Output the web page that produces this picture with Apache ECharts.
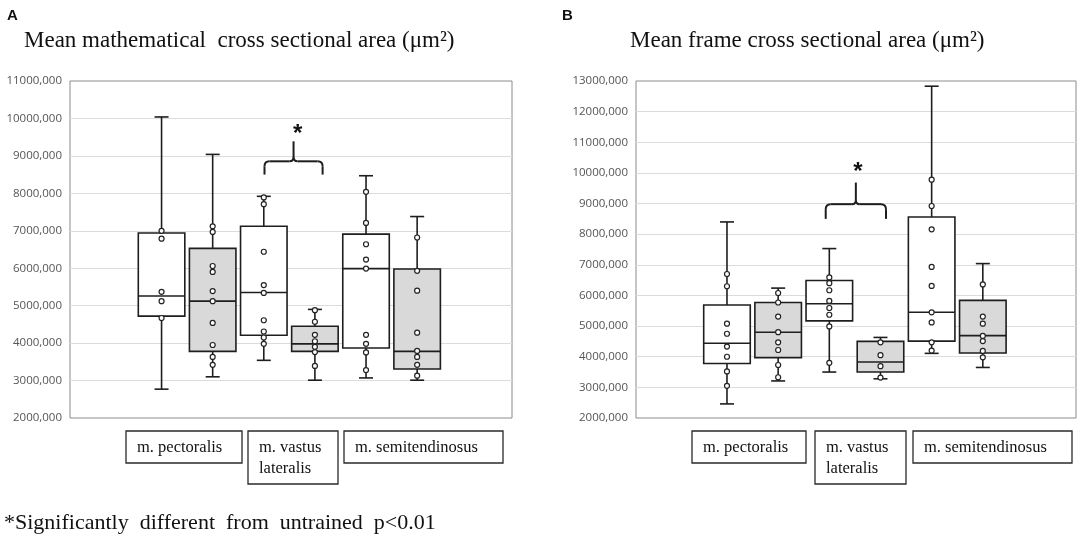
<!DOCTYPE html>
<html><head><meta charset="utf-8">
<script src="https://cdn.jsdelivr.net/npm/echarts@6/dist/echarts.min.js"></script>
<style>html,body{margin:0;padding:0;background:#fff}#c{width:1084px;height:543px}</style>
</head><body><div id="c"></div>
<script>
// ---------------- DATA ----------------
const muscles = ['m. pectoralis', 'm. vastus\nlateralis', 'm. semitendinosus'];
const categories = ['pectoralis-1', 'pectoralis-2', 'vastus-1', 'vastus-2', 'semitendinosus-1', 'semitendinosus-2'];
const titleA = 'Mean mathematical  cross sectional area (μm²)';
const titleB = 'Mean frame cross sectional area (μm²)';
const footnote = '*Significantly  different  from  untrained  p<0.01';
const yTicksA = ['2000,000','3000,000','4000,000','5000,000','6000,000','7000,000','8000,000','9000,000','10000,000','11000,000'];
const yTicksB = ['2000,000','3000,000','4000,000','5000,000','6000,000','7000,000','8000,000','9000,000','10000,000','11000,000','12000,000','13000,000'];
// [min, Q1, median, Q3, max] for each category
const boxesA = [
  [2770000, 4720000, 5260000, 6940000, 10040000],
  [3100000, 3780000, 5120000, 6530000, 9040000],
  [3540000, 4210000, 5350000, 7120000, 7920000],
  [3010000, 3780000, 3980000, 4450000, 4900000],
  [3070000, 3870000, 5990000, 6910000, 8470000],
  [3010000, 3310000, 3780000, 5980000, 7380000]
];
const pointsA = [
  [7000000, 6790000, 5370000, 5120000, 4670000],
  [7120000, 6970000, 6060000, 5900000, 5390000, 5120000, 4540000, 3950000, 3630000, 3420000],
  [7890000, 7710000, 6440000, 5550000, 5340000, 4610000, 4310000, 4150000, 3980000],
  [4880000, 4570000, 4220000, 4050000, 3900000, 3760000, 3390000],
  [8040000, 7210000, 6640000, 6230000, 5990000, 4220000, 3980000, 3750000, 3280000],
  [6820000, 5930000, 5400000, 4280000, 3790000, 3630000, 3420000, 3130000]
];
const boxesB = [
  [2460000, 3780000, 4440000, 5690000, 8400000],
  [3210000, 3970000, 4800000, 5770000, 6240000],
  [3500000, 5170000, 5730000, 6490000, 7530000],
  [3280000, 3500000, 3830000, 4500000, 4630000],
  [4110000, 4510000, 5450000, 8560000, 12830000],
  [3650000, 4120000, 4690000, 5840000, 7040000]
];
const pointsB = [
  [6700000, 6300000, 5080000, 4750000, 4330000, 4000000, 3520000, 3050000],
  [6080000, 5770000, 5310000, 4800000, 4470000, 4220000, 3730000, 3330000],
  [6590000, 6400000, 6170000, 5820000, 5590000, 5370000, 4990000, 3800000],
  [4470000, 4050000, 3690000, 3320000],
  [9780000, 8920000, 8160000, 6930000, 6310000, 5450000, 5120000, 4470000, 4200000],
  [6360000, 5310000, 5080000, 4680000, 4510000, 4190000, 3980000]
];
const braceBase = 8500000;   // value at which the significance brace starts
const bracePair = [2, 3];    // vastus lateralis pair

// ---------------- LAYOUT / STYLE ----------------
const SERIF = '"Liberation Serif", "Times New Roman", serif';
const AXFONT = '"Open Sans", sans-serif';
const LINE = '#1e1e1e';
const FILLS = ['#ffffff', '#d9d9d9'];

const panels = [
  { frame: {left: 70, top: 81, width: 442, height: 337}, inner: {left: 136, width: 306.7},
    ticks: yTicksA, boxes: boxesA, points: pointsA, letter: 'A', letterX: 7,
    title: titleA, titleX: 24,
    labelBoxes: [[126, 116, 32], [248, 90, 53], [344, 159, 32]],
    brace: {dx1: 0.7, dx2: 7.7, arm: 13.3, spike: 20, star: 11.7, starDx: 4} },
  { frame: {left: 636, top: 81, width: 440, height: 337}, inner: {left: 701.4, width: 307},
    ticks: yTicksB, boxes: boxesB, points: pointsB, letter: 'B', letterX: 562,
    title: titleB, titleX: 630,
    labelBoxes: [[692, 114, 32], [815, 91, 53], [913, 159, 32]],
    brace: {dx1: -3.6, dx2: 5.5, arm: 14.7, spike: 21.6, star: 14.7, starDx: 2} }
];

function boxRender(fill) {
  return function (params, api) {
    const x = api.value(0);
    const lo = api.coord([x, api.value(1)]);
    const q1 = api.coord([x, api.value(2)]);
    const md = api.coord([x, api.value(3)]);
    const q3 = api.coord([x, api.value(4)]);
    const hi = api.coord([x, api.value(5)]);
    const band = api.size([1, 0])[0];
    const w = band * 0.91, cap = 14, cx = lo[0];
    const ls = {stroke: LINE, lineWidth: 1.6};
    return {
      type: 'group',
      children: [
        {type: 'line', shape: {x1: cx, y1: q3[1], x2: cx, y2: hi[1]}, style: ls},
        {type: 'line', shape: {x1: cx - cap / 2, y1: hi[1], x2: cx + cap / 2, y2: hi[1]}, style: ls},
        {type: 'line', shape: {x1: cx, y1: q1[1], x2: cx, y2: lo[1]}, style: ls},
        {type: 'line', shape: {x1: cx - cap / 2, y1: lo[1], x2: cx + cap / 2, y2: lo[1]}, style: ls},
        {type: 'rect', shape: {x: cx - w / 2, y: q3[1], width: w, height: q1[1] - q3[1]},
          style: {fill: fill, stroke: LINE, lineWidth: 1.6}},
        {type: 'line', shape: {x1: cx - w / 2, y1: md[1], x2: cx + w / 2, y2: md[1]}, style: ls}
      ]
    };
  };
}

const grids = [], xAxes = [], yAxes = [], series = [];
panels.forEach((p, k) => {
  const maxV = 2000000 + (p.ticks.length - 1) * 1000000;
  const fg = k * 2, ig = k * 2 + 1;
  grids.push({left: p.frame.left, top: p.frame.top, width: p.frame.width, height: p.frame.height,
    show: true, borderColor: '#8c8c8c', borderWidth: 1, backgroundColor: 'transparent'});
  grids.push({left: p.inner.left, top: p.frame.top, width: p.inner.width, height: p.frame.height});
  xAxes.push({gridIndex: fg, type: 'value', min: 0, max: 1, show: false});
  xAxes.push({gridIndex: ig, type: 'category', data: categories, show: false});
  yAxes.push({gridIndex: fg, type: 'value', min: 2000000, max: maxV, interval: 1000000,
    axisLine: {show: false}, axisTick: {show: false},
    splitLine: {show: true, showMinLine: false, showMaxLine: false, lineStyle: {color: '#dcdcdc', width: 1}},
    axisLabel: {margin: 8, color: '#555555', fontFamily: AXFONT, fontSize: 11.5,
      formatter: v => p.ticks[Math.round((v - 2000000) / 1000000)]}});
  yAxes.push({gridIndex: ig, type: 'value', min: 2000000, max: maxV, show: false});
  [0, 1].forEach(s => {
    series.push({
      type: 'custom', name: s === 0 ? 'Group 1' : 'Group 2',
      xAxisIndex: ig, yAxisIndex: ig, z: 2,
      renderItem: boxRender(FILLS[s]),
      encode: {x: 0, y: [1, 2, 3, 4, 5]},
      data: p.boxes.map((b, i) => [i].concat(b)).filter(d => d[0] % 2 === s)
    });
  });
  series.push({
    type: 'scatter', xAxisIndex: ig, yAxisIndex: ig, z: 5,
    symbol: 'circle', symbolSize: 5,
    itemStyle: {color: '#ffffff', borderColor: '#222', borderWidth: 1.2, opacity: 1},
    data: p.points.flatMap((arr, i) => arr.map(v => [i, v]))
  });
});

const chart = echarts.init(document.getElementById('c'));
chart.setOption({
  animation: false,
  backgroundColor: '#ffffff',
  grid: grids, xAxis: xAxes, yAxis: yAxes, series: series
});

// ---------- annotations (titles, labels, braces) ----------
const graphics = [];
const bs = {stroke: LINE, lineWidth: 2, fill: null};
panels.forEach((p, k) => {
  graphics.push({type: 'text', x: p.letterX, y: 8,
    style: {text: p.letter, font: 'bold 15px "Liberation Sans", Arial, sans-serif', fill: '#111', verticalAlign: 'top'}});
  graphics.push({type: 'text', x: p.titleX, y: 41,
    style: {text: p.title, font: '23px ' + SERIF, fill: '#111', verticalAlign: 'middle'}});
  p.labelBoxes.forEach((lb, i) => {
    graphics.push({type: 'rect', shape: {x: lb[0], y: 431, width: lb[1], height: lb[2]},
      style: {fill: '#fff', stroke: '#2a2a2a', lineWidth: 1.3}});
    graphics.push({type: 'text', x: lb[0] + 11, y: 437,
      style: {text: muscles[i], font: '16.5px ' + SERIF, fill: '#111', lineHeight: 21, verticalAlign: 'top'}});
  });
  const ig = k * 2 + 1;
  const a = chart.convertToPixel({gridIndex: ig}, [bracePair[0], braceBase]);
  const b = chart.convertToPixel({gridIndex: ig}, [bracePair[1], braceBase]);
  const br = p.brace;
  const x1 = a[0] + br.dx1, x2 = b[0] + br.dx2, yb = a[1], xm = (x1 + x2) / 2;
  const yh = yb - br.arm, yt = yh - br.spike;
  const r = 5;
  graphics.push(
    {type: 'line', shape: {x1: x1, y1: yb, x2: x1, y2: yh + r}, style: bs},
    {type: 'bezierCurve', shape: {x1: x1, y1: yh + r, cpx1: x1, cpy1: yh, x2: x1 + r, y2: yh}, style: bs},
    {type: 'line', shape: {x1: x1 + r, y1: yh, x2: xm - 4, y2: yh}, style: bs},
    {type: 'bezierCurve', shape: {x1: xm - 4, y1: yh, cpx1: xm, cpy1: yh, x2: xm, y2: yh - 4}, style: bs},
    {type: 'bezierCurve', shape: {x1: xm + 4, y1: yh, cpx1: xm, cpy1: yh, x2: xm, y2: yh - 4}, style: bs},
    {type: 'line', shape: {x1: xm, y1: yh - 4, x2: xm, y2: yt}, style: bs},
    {type: 'line', shape: {x1: xm + 4, y1: yh, x2: x2 - r, y2: yh}, style: bs},
    {type: 'bezierCurve', shape: {x1: x2 - r, y1: yh, cpx1: x2, cpy1: yh, x2: x2, y2: yh + r}, style: bs},
    {type: 'line', shape: {x1: x2, y1: yh + r, x2: x2, y2: yb}, style: bs}
  );
  graphics.push({type: 'text', x: xm + br.starDx, y: yt - br.star + 4.8,
    style: {text: '*', font: 'bold 24px "Liberation Sans", Arial, sans-serif', fill: '#111', align: 'center', verticalAlign: 'middle'}});
});
graphics.push({type: 'text', x: 4, y: 523,
  style: {text: footnote, font: '22px ' + SERIF, fill: '#111', verticalAlign: 'middle'}});
chart.setOption({graphic: graphics});
</script></body></html>
